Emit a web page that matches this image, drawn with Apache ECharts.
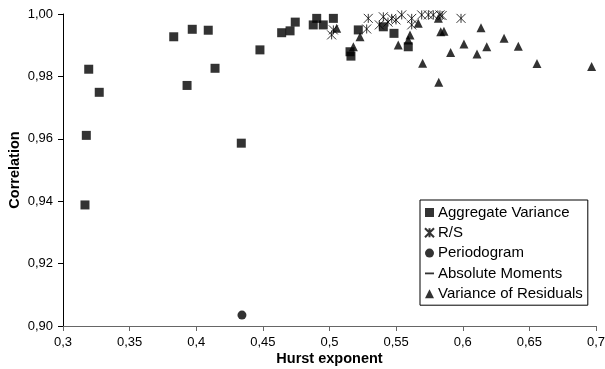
<!DOCTYPE html>
<html>
<head>
<meta charset="utf-8">
<script src="https://cdn.jsdelivr.net/npm/echarts@6/dist/echarts.min.js"></script>
<style>
  html, body { margin: 0; padding: 0; background: #fff; }
  #main { width: 605px; height: 369px; }
</style>
</head>
<body>
<div id="main"></div>
<script>
// Hurst exponent vs correlation, per estimator
const aggregateVariance = [
  [0.3165, 0.9388], [0.3175, 0.9611], [0.3193, 0.9823], [0.3272, 0.9749],
  [0.3831, 0.9927], [0.3931, 0.9771], [0.3970, 0.9951], [0.4090, 0.9948],
  [0.4141, 0.9826], [0.4338, 0.9586], [0.4478, 0.9885], [0.4641, 0.9940],
  [0.4704, 0.9946], [0.4743, 0.9974], [0.4904, 0.9986], [0.4878, 0.9965],
  [0.4953, 0.9965], [0.5029, 0.9986], [0.5216, 0.9949], [0.5154, 0.9879],
  [0.5161, 0.9865], [0.5404, 0.9959], [0.5484, 0.9938], [0.5591, 0.9895]
]
const rs = [
  [0.5029, 0.9949], [0.5016, 0.9933], [0.5279, 0.9952], [0.5291, 0.9986],
  [0.5374, 0.9965], [0.5404, 0.9991], [0.5439, 0.9974], [0.5467, 0.9986],
  [0.5499, 0.9981], [0.5542, 0.9997], [0.5617, 0.9986], [0.5617, 0.9965],
  [0.5692, 0.9997], [0.5742, 0.9997], [0.5779, 0.9997], [0.5829, 0.9997],
  [0.5845, 0.9995], [0.5987, 0.9986]
]
const periodogram = [
  [0.4343, 0.9035]
]
const absoluteMoments = []
const varianceOfResiduals = [
  [0.5054, 0.9954], [0.5179, 0.9895], [0.5229, 0.9927], [0.5516, 0.9901],
  [0.5604, 0.9933], [0.5591, 0.9917], [0.5666, 0.9970], [0.5699, 0.9842],
  [0.5817, 0.9986], [0.5835, 0.9943], [0.5859, 0.9945], [0.5909, 0.9877],
  [0.6009, 0.9904], [0.6107, 0.9872], [0.6137, 0.9956], [0.6180, 0.9895],
  [0.6310, 0.9922], [0.6417, 0.9897], [0.6557, 0.9841], [0.6967, 0.9832],
  [0.5820, 0.9781]
]

const seriesNames = ['Aggregate Variance', 'R/S', 'Periodogram', 'Absolute Moments', 'Variance of Residuals']

const fontFamily = '"Liberation Sans", Arial, sans-serif'
const starPath = 'path://M0,0L10,10M10,0L0,10M5,0L5,10'
const dashPath = 'path://M0,4L10,4L10,6L0,6Z'
const commaNum = v => String(+v.toFixed(2)).replace('.', ',')

const chart = echarts.init(document.getElementById('main'))
const option = {
  animation: false,
  textStyle: { fontFamily: fontFamily },
  grid: { left: 63, right: 9, top: 14, bottom: 43, outerBoundsMode: 'none' },
  legend: {
    orient: 'vertical',
    left: 420,
    top: 200,
    padding: [5, 5, 4, 4],
    itemGap: 5.3,
    itemWidth: 9,
    itemHeight: 9,
    borderColor: '#000',
    borderWidth: 1,
    textStyle: { fontSize: 15, color: '#000', fontFamily: fontFamily, padding: [0, 0, 0, -1] },
    data: [
      { name: seriesNames[0], icon: 'rect' },
      { name: seriesNames[1], icon: starPath },
      { name: seriesNames[2], icon: 'circle' },
      { name: seriesNames[3], icon: dashPath },
      { name: seriesNames[4], icon: 'triangle' }
    ]
  },
  xAxis: {
    type: 'value',
    min: 0.3,
    max: 0.7,
    interval: 0.05,
    name: 'Hurst exponent',
    nameLocation: 'middle',
    nameGap: 25,
    nameMoveOverlap: false,
    nameTextStyle: { fontSize: 14.5, fontWeight: 'bold', color: '#000' },
    axisLine: { lineStyle: { color: '#666' } },
    axisTick: { length: 5, lineStyle: { color: '#666' } },
    axisLabel: { fontSize: 13, color: '#000', margin: 10, formatter: commaNum },
    splitLine: { show: false }
  },
  yAxis: {
    type: 'value',
    min: 0.9,
    max: 1.0,
    interval: 0.02,
    name: 'Correlation',
    nameLocation: 'middle',
    nameGap: 41,
    nameMoveOverlap: false,
    nameTextStyle: { fontSize: 14.5, fontWeight: 'bold', color: '#000' },
    axisLine: { show: true, lineStyle: { color: '#000' } },
    axisTick: { show: true, length: 5, lineStyle: { color: '#000' } },
    axisLabel: { fontSize: 13, color: '#000', margin: 10, formatter: v => v.toFixed(2).replace('.', ',') },
    splitLine: { show: false }
  },
  series: [
    {
      name: seriesNames[0],
      type: 'scatter',
      symbol: 'rect',
      symbolSize: 9,
      itemStyle: { color: '#000' },
      data: aggregateVariance
    },
    {
      name: seriesNames[1],
      type: 'scatter',
      symbol: starPath,
      symbolSize: 9,
      itemStyle: { color: '#000', borderColor: '#000', borderWidth: 1 },
      data: rs
    },
    {
      name: seriesNames[2],
      type: 'scatter',
      symbol: 'circle',
      symbolSize: 9,
      itemStyle: { color: '#000' },
      data: periodogram
    },
    {
      name: seriesNames[3],
      type: 'scatter',
      symbol: dashPath,
      symbolKeepAspect: true,
      symbolSize: 9,
      itemStyle: { color: '#000' },
      data: absoluteMoments
    },
    {
      name: seriesNames[4],
      type: 'scatter',
      symbol: 'triangle',
      symbolSize: 9,
      itemStyle: { color: '#000' },
      data: varianceOfResiduals
    }
  ]
}
chart.setOption(option)
</script>
</body>
</html>
